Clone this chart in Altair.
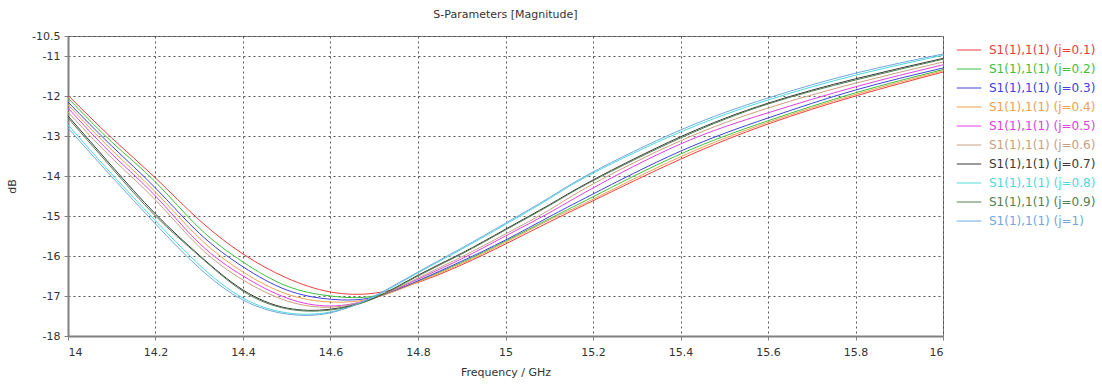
import altair as alt
import pandas as pd

freqs = [14.0, 14.1, 14.2, 14.3, 14.4, 14.5, 14.6, 14.7, 14.8, 14.9, 15.0, 15.1, 15.2, 15.4, 15.6, 15.8, 16.0]

s_j01 = [-11.98, -13.05, -14.05, -15.10, -15.95, -16.55, -16.90, -16.93, -16.66, -16.22, -15.70, -15.15, -14.62, -13.58, -12.70, -12.00, -11.40]
s_j02 = [-12.05, -13.15, -14.15, -15.30, -16.15, -16.75, -17.00, -17.00, -16.63, -16.16, -15.63, -15.07, -14.52, -13.45, -12.62, -11.92, -11.34]
s_j03 = [-12.15, -13.25, -14.30, -15.43, -16.27, -16.85, -17.08, -17.03, -16.62, -16.13, -15.60, -15.02, -14.45, -13.38, -12.55, -11.85, -11.30]
s_j04 = [-12.22, -13.35, -14.40, -15.55, -16.40, -16.95, -17.15, -17.05, -16.65, -16.19, -15.66, -15.10, -14.58, -13.52, -12.66, -11.96, -11.37]
s_j05 = [-12.30, -13.45, -14.50, -15.68, -16.50, -17.05, -17.25, -17.05, -16.58, -16.07, -15.50, -14.92, -14.30, -13.20, -12.42, -11.77, -11.22]
s_j06 = [-12.40, -13.55, -14.60, -15.77, -16.60, -17.12, -17.28, -17.05, -16.55, -16.02, -15.45, -14.85, -14.20, -13.12, -12.30, -11.68, -11.15]
s_j07 = [-12.50, -13.75, -14.95, -15.98, -16.85, -17.30, -17.33, -17.05, -16.48, -15.93, -15.33, -14.72, -14.10, -13.02, -12.18, -11.57, -11.06]
s_j08 = [-12.72, -13.95, -15.12, -16.22, -17.05, -17.42, -17.40, -17.02, -16.42, -15.83, -15.21, -14.57, -13.93, -12.90, -12.10, -11.48, -10.98]
s_j09 = [-12.55, -13.80, -15.00, -16.00, -16.88, -17.32, -17.35, -17.06, -16.50, -15.95, -15.35, -14.74, -14.12, -13.05, -12.20, -11.60, -11.08]
s_j10 = [-12.80, -14.02, -15.20, -16.30, -17.10, -17.45, -17.42, -17.00, -16.40, -15.80, -15.18, -14.54, -13.90, -12.85, -12.05, -11.43, -10.95]

names = ["S1(1),1(1) (j=0.1)", "S1(1),1(1) (j=0.2)", "S1(1),1(1) (j=0.3)", "S1(1),1(1) (j=0.4)",
         "S1(1),1(1) (j=0.5)", "S1(1),1(1) (j=0.6)", "S1(1),1(1) (j=0.7)", "S1(1),1(1) (j=0.8)",
         "S1(1),1(1) (j=0.9)", "S1(1),1(1) (j=1)"]
series = [s_j01, s_j02, s_j03, s_j04, s_j05, s_j06, s_j07, s_j08, s_j09, s_j10]
colors = ["#f03c3c", "#3cbf3c", "#4040e0", "#f0a050", "#e040e0", "#c8a080",
          "#383838", "#50d8d8", "#508050", "#70a8e0"]

x_ticks = [14.0, 14.2, 14.4, 14.6, 14.8, 15.0, 15.2, 15.4, 15.6, 15.8, 16.0]
y_ticks = [-18, -17, -16, -15, -14, -13, -12, -11, -10.5]

rows = []
for name, vals in zip(names, series):
    for f, v in zip(freqs, vals):
        rows.append({"freq": f, "dB": v, "series": name})
df = pd.DataFrame(rows)

FONT = "DejaVu Sans"

chart = alt.Chart(df).mark_line(strokeWidth=1, interpolate="natural", clip=True).encode(
    x=alt.X("freq:Q",
            scale=alt.Scale(domain=[14, 16], nice=False, zero=False),
            axis=alt.Axis(values=x_ticks, labelExpr="toString(datum.value)",
                          title="Frequency / GHz",
                          titlePadding=9, labelPadding=6, tickSize=4)),
    y=alt.Y("dB:Q",
            scale=alt.Scale(domain=[-18, -10.5], nice=False, zero=False),
            axis=alt.Axis(values=y_ticks, labelExpr="toString(datum.value)", title="dB",
                          titlePadding=14, labelPadding=4, tickSize=4)),
    color=alt.Color("series:N",
                    scale=alt.Scale(domain=names, range=colors),
                    sort=names,
                    legend=alt.Legend(
                        title=None, orient="none", legendX=888, legendY=1,
                        symbolType="stroke", symbolSize=600, symbolStrokeWidth=1,
                        labelFont=FONT, labelFontSize=12, rowPadding=0,
                        labelOffset=7, labelLimit=200,
                        labelColor=alt.ExprRef("scale('color', datum.value)"))),
    detail="series:N",
).properties(
    width=875, height=300,
    title=alt.TitleParams("S-Parameters [Magnitude]", font=FONT, fontSize=11,
                          fontWeight="normal", color="#333333", offset=10),
).configure(
    autosize=alt.AutoSizeParams(type="none"),
    padding={"left": 68, "top": 36, "right": 159, "bottom": 55},
    background="white",
).configure_view(
    stroke="#808080", strokeWidth=1,
).configure_axis(
    grid=True, gridColor="#444444", gridDash=[2, 3], gridWidth=1, gridOpacity=0.9,
    domainColor="#808080", domainWidth=2, tickColor="#808080",
    labelFont=FONT, labelFontSize=11, labelColor="#333333",
    titleFont=FONT, titleFontSize=11, titleFontWeight="normal", titleColor="#333333",
)

chart.save("out.html", embed_options={"renderer": "svg", "actions": False})
